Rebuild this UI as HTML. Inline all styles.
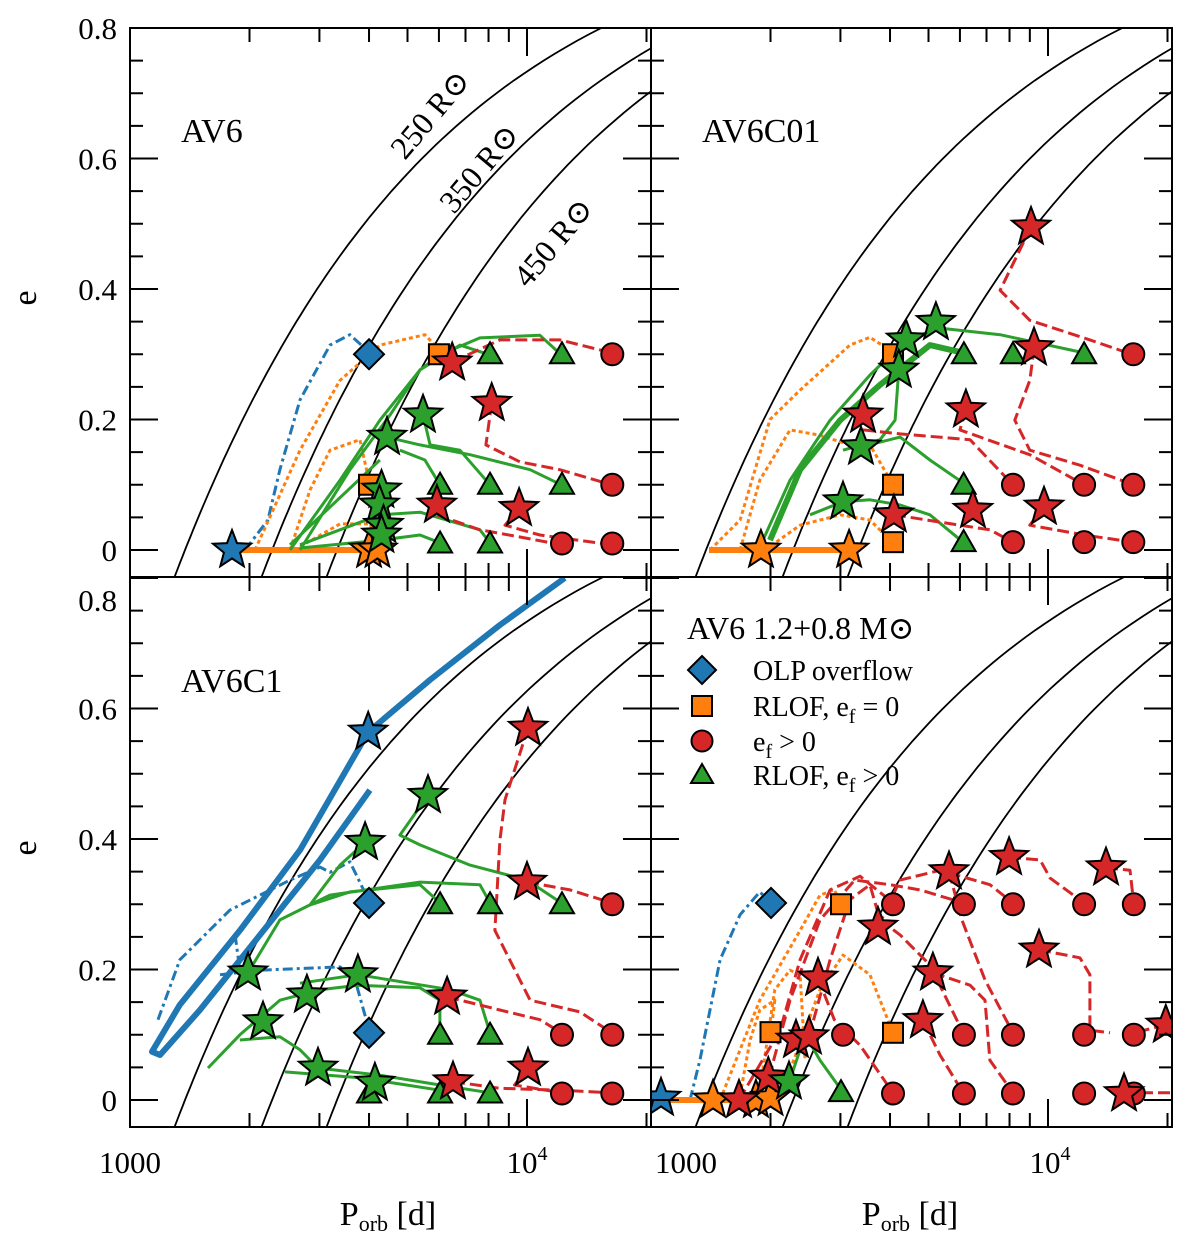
<!DOCTYPE html>
<html><head><meta charset="utf-8"><style>
html,body{margin:0;padding:0;background:#fff;}
svg{display:block;font-family:"Liberation Serif","DejaVu Serif",serif;}
</style></head><body>
<svg id="chart" width="1200" height="1235" viewBox="0 0 1200 1235" xmlns="http://www.w3.org/2000/svg">
<defs>
<clipPath id="c0"><rect x="130" y="28" width="521" height="549"/></clipPath>
<clipPath id="c1"><rect x="651" y="28" width="521" height="549"/></clipPath>
<clipPath id="c2"><rect x="130" y="577" width="521" height="550"/></clipPath>
<clipPath id="c3"><rect x="651" y="577" width="521" height="550"/></clipPath>
</defs>
<g id="layer"></g>
</svg>
<script>
// ---- data ----
const radii = [250, 350, 450];
const P0_250 = 1376;
const yTicks = [0, 0.2, 0.4, 0.6, 0.8];
const yTickLabels = ["0", "0.2", "0.4", "0.6", "0.8"];
const panelNames = ["AV6", "AV6C01", "AV6C1", ""];

// tracks: [color, style, P array, e array]
const tracksAV6 = [
 ["b","dd",[1950,2225,2386,2680,3190,3580,4020],[0,0.046,0.123,0.23,0.314,0.33,0.302]],
 ["o","dot",[2065,2680,3380,4260,5530,6035],[0,0.153,0.26,0.314,0.33,0.306]],
 ["o","dot",[2529,2840,3190,3795,4020],[0,0.092,0.153,0.169,0.1]],
 ["o","dot",[2680,3380,4020,4260],[0.005,0.04,0.04,0.005]],
 ["o","thick",[1807,4200],[0,0]],
 ["g","s",[2529,3380,4260,5375,6035,7610,10780,12200],[0,0.107,0.199,0.276,0.299,0.325,0.329,0.299]],
 ["g","s",[2680,3580,4520,5375,6775,8070],[0,0.123,0.207,0.276,0.314,0.299]],
 ["g","s",[4430,5375,7185,10180,12200],[0.173,0.161,0.146,0.123,0.1]],
 ["g","s",[4785,5530,6035],[0.153,0.138,0.1]],
 ["g","s",[5470,5700,6775,8070],[0.207,0.161,0.153,0.1]],
 ["g","s",[2680,4260,5375,7610,8070],[0.008,0.054,0.058,0.031,0.011]],
 ["g","s",[2680,4260,5375,6035],[0.003,0.015,0.023,0.011]],
 ["g","s",[2529,4260],[0.008,0.138]],
 ["r","d",[6480,8545,12100,16350],[0.288,0.322,0.322,0.302]],
 ["r","d",[8150,7880,9600,12100,16350],[0.225,0.161,0.135,0.123,0.1]],
 ["r","d",[5930,7610,9600,12200],[0.054,0.031,0.02,0.008]],
 ["r","d",[9550,8800,10780,16350],[0.064,0.038,0.023,0.008]]
];
const tracksAV6C01 = [
 ["o","dot",[1408,1677,1994,2375,3170,3560,4070],[0,0.046,0.2,0.245,0.314,0.326,0.303]],
 ["o","dot",[1677,1880,2240,2660,3170,3560,4070],[0,0.107,0.184,0.176,0.161,0.161,0.1]],
 ["o","dot",[1937,2375,2995,3560,4070],[0,0.038,0.054,0.046,0.011]],
 ["o","thick",[1400,3200],[0,0]],
 ["g","s",[1892,2240,2825,3560,4390,5345,7575,12330],[0.008,0.107,0.199,0.268,0.322,0.34,0.33,0.302]],
 ["g","thick",[1994,2375,2995,3775,4210,5040,6140],[0.015,0.123,0.199,0.253,0.276,0.314,0.302]],
 ["g","s",[3380,4240,5040,6110],[0.158,0.173,0.138,0.103]],
 ["g","s",[2515,3045,3560,4240,5040,6110],[0.054,0.074,0.077,0.069,0.054,0.012]],
 ["g","s",[4210,4120,3775,3045],[0.276,0.199,0.169,0.153]],
 ["r","d",[9060,7575,9000,12750,16440],[0.495,0.398,0.352,0.322,0.299]],
 ["r","d",[9230,9000,8250,9000,12030,16440],[0.31,0.26,0.199,0.153,0.13,0.1]],
 ["r","d",[3420,4240,6360,8160],[0.184,0.178,0.169,0.1]],
 ["r","d",[6210,6000,9000,12330],[0.215,0.184,0.146,0.1]],
 ["r","d",[4090,6000,7140,8160],[0.054,0.038,0.031,0.012]],
 ["r","d",[9770,9000,12330,16440],[0.066,0.038,0.023,0.012]]
];
const tracksAV6C1 = [
 ["b","thick",[12450,8545,5700,3980,2680,1892,1336,1136,1190,1500,2125,3010,4020],[0.8,0.728,0.644,0.564,0.383,0.26,0.146,0.074,0.069,0.138,0.253,0.368,0.475]],
 ["b","dd",[1176,1336,1785,2529,3010,3190,3580,4020],[0.123,0.215,0.291,0.337,0.357,0.349,0.365,0.302]],
 ["b","dd",[1685,2125,3380,3690,4020],[0.192,0.199,0.204,0.184,0.103]],
 ["b","dd",[1840,1892,1983],[0.253,0.199,0.195]],
 ["g","s",[1983,2386,2840,3580,5375,6035],[0.195,0.276,0.299,0.319,0.33,0.302]],
 ["g","s",[3910,3380,2840,3190,5375,7610,8070],[0.395,0.36,0.299,0.314,0.334,0.33,0.302]],
 ["g","s",[5630,4785,5375,7185,10000,12200],[0.467,0.406,0.391,0.36,0.337,0.302]],
 ["g","s",[1572,1892,2386,3010,3750,5375,6035,6035],[0.049,0.1,0.153,0.169,0.176,0.172,0.153,0.103]],
 ["g","s",[2680,3750,6400,7610,8070],[0.179,0.192,0.169,0.153,0.103]],
 ["g","s",[1892,2386,2680,2976,4260,6035,8070],[0.092,0.097,0.077,0.049,0.038,0.023,0.011]],
 ["g","s",[2455,3795,6035],[0.043,0.034,0.015]],
 ["r","d",[10060,8800,8545,8300,10180,13590,16350],[0.57,0.46,0.398,0.26,0.153,0.135,0.103]],
 ["r","d",[10000,12830,16350],[0.334,0.322,0.302]],
 ["r","d",[6290,8545,10780,12200],[0.158,0.138,0.123,0.103]],
 ["r","d",[6510,8545,12100,16350],[0.028,0.018,0.015,0.011]],
 ["r","d",[10060,9300,12200],[0.049,0.023,0.011]]
];
const tracksAV6M = [
 ["b","dd",[1254,1328,1493,1677,1880,2005],[0,0.061,0.215,0.284,0.319,0.302]],
 ["o","thick",[1060,2000],[0,0]],
 ["o","dot",[1493,1880,2375,2665,2895,3010],[0,0.153,0.26,0.314,0.322,0.302]],
 ["o","dot",[1677,1777,1880,2050,2005],[0.008,0.092,0.138,0.153,0.104]],
 ["o","dot",[1880,2050,2240,2375,2445],[0.015,0.169,0.199,0.192,0.061]],
 ["o","dot",[2240,2665,3045,3560,4070],[0.046,0.169,0.222,0.192,0.103]],
 ["r","d",[1666,2115,2375,2825,3360,4070],[0,0.107,0.215,0.322,0.343,0.302]],
 ["r","d",[1983,2240,2665,3260,4000,4760,6110],[0.035,0.153,0.276,0.337,0.33,0.322,0.302]],
 ["r","d",[2500,2825,3170,3560,3775,4240,5040,6110],[0.097,0.215,0.307,0.33,0.276,0.253,0.207,0.103]],
 ["r","d",[2635,2895,3360,4070],[0.187,0.123,0.084,0.011]],
 ["r","d",[3730,4240,5345,7140,8160],[0.265,0.337,0.352,0.33,0.302]],
 ["r","d",[4840,5345,6110],[0.122,0.069,0.011]],
 ["r","d",[5130,6360,6940,7140,8160],[0.195,0.176,0.153,0.061,0.011]],
 ["r","d",[5630,6070,6940,8160],[0.35,0.276,0.184,0.103]],
 ["r","d",[7980,9550,10120,12330],[0.372,0.368,0.34,0.302]],
 ["r","d",[9490,12030,12750,12750,14330],[0.23,0.218,0.192,0.107,0.103]],
 ["r","d",[14000,16090,16440,17500],[0.356,0.352,0.302,0.3]],
 ["r","d",[15540,20500],[0.011,0.011]],
 ["r","d",[19800,16440],[0.115,0.103]],
 ["g","s",[2230,2375,2490,2665,3045],[0.028,0.077,0.092,0.061,0.012]]
];

// markers: [shape, color, P, e]
const markersAV6 = [
 ["tri","g",8070,0.3],["tri","g",12250,0.3],["tri","g",6040,0.1],["tri","g",8070,0.1],["tri","g",12250,0.1],
 ["tri","g",6040,0.01],["tri","g",8070,0.01],
 ["circ","r",16400,0.3],["circ","r",16400,0.1],["circ","r",12250,0.01],["circ","r",16400,0.01],
 ["sq","o",6000,0.3],["sq","o",4000,0.1],
 ["dia","b",4000,0.3],
 ["star","b",1807,0],["star","o",4000,0],["star","o",4200,0],
 ["star","g",5470,0.207],["star","g",4440,0.173],["star","g",4300,0.092],["star","g",4250,0.069],["star","g",4350,0.038],["star","g",4300,0.023],
 ["star","r",6480,0.287],["star","r",8150,0.225],["star","r",5930,0.069],["star","r",9550,0.064]
];
const markersAV6C01 = [
 ["tri","g",6140,0.3],["tri","g",8160,0.3],["tri","g",12330,0.3],["tri","g",6130,0.1],["tri","g",6130,0.012],
 ["circ","r",16400,0.3],["circ","r",8160,0.1],["circ","r",12330,0.1],["circ","r",16400,0.1],
 ["circ","r",8160,0.012],["circ","r",12330,0.012],["circ","r",16400,0.012],
 ["sq","o",4070,0.3],["sq","o",4070,0.1],["sq","o",4070,0.012],
 ["star","o",1892,0],["star","o",3155,0],
 ["star","g",5220,0.349],["star","g",4390,0.322],["star","g",4210,0.276],["star","g",3380,0.158],["star","g",3045,0.074],
 ["star","r",9060,0.495],["star","r",9220,0.31],["star","r",6210,0.215],["star","r",3420,0.207],["star","r",4090,0.054],["star","r",6470,0.061],["star","r",9770,0.066]
];
const markersAV6C1 = [
 ["tri","g",6040,0.3],["tri","g",8070,0.3],["tri","g",12250,0.3],["tri","g",6040,0.1],["tri","g",8070,0.1],
 ["tri","g",4000,0.01],["tri","g",6040,0.01],["tri","g",8070,0.01],
 ["circ","r",16400,0.3],["circ","r",12250,0.1],["circ","r",16400,0.1],["circ","r",12250,0.01],["circ","r",16400,0.01],
 ["dia","b",4000,0.302],["dia","b",4000,0.103],
 ["star","b",3980,0.564],
 ["star","g",5630,0.467],["star","g",3910,0.395],["star","g",1983,0.195],["star","g",2790,0.161],["star","g",3750,0.192],["star","g",2163,0.12],["star","g",2976,0.049],["star","g",4140,0.026],
 ["star","r",10060,0.57],["star","r",10000,0.334],["star","r",6290,0.158],["star","r",6510,0.028],["star","r",10060,0.049]
];
const markersAV6M = [
 ["tri","g",3010,0.012],
 ["circ","r",4070,0.3],["circ","r",6140,0.3],["circ","r",8160,0.3],["circ","r",12330,0.3],["circ","r",16450,0.3],
 ["circ","r",3046,0.1],["circ","r",6140,0.1],["circ","r",8160,0.1],["circ","r",12330,0.1],["circ","r",16450,0.1],
 ["circ","r",4070,0.01],["circ","r",6140,0.01],["circ","r",8160,0.01],["circ","r",12330,0.01],["circ","r",16450,0.01],
 ["sq","o",3010,0.3],["sq","o",2000,0.104],["sq","o",4070,0.103],
 ["dia","b",2006,0.302],
 ["star","b",1060,0.003],
 ["star","o",1433,0],["star","o",1838,0],["star","o",2000,0.003],
 ["star","r",1666,0],["star","r",1975,0.035],["star","r",2318,0.092],["star","r",2500,0.097],["star","r",2635,0.187],["star","r",3730,0.265],
 ["star","r",4840,0.122],["star","r",5130,0.195],["star","r",5630,0.35],["star","r",7980,0.372],["star","r",9490,0.23],["star","r",14000,0.356],
 ["star","r",19800,0.115],["star","r",15540,0.01],
 ["star","g",2226,0.028]
];

// ---- rendering ----
const COL = {b:"#1f77b4", o:"#ff7f0e", g:"#2ca02c", r:"#d62728"};
const NS = "http://www.w3.org/2000/svg";
const layer = document.getElementById("layer");
const DEC = 397, EPX = 652.5;
const panels = [
 {x0:130, top:28, bot:577, e0:550, tracks:tracksAV6, markers:markersAV6, clip:"c0"},
 {x0:651, top:28, bot:577, e0:550, tracks:tracksAV6C01, markers:markersAV6C01, clip:"c1"},
 {x0:130, top:577, bot:1127, e0:1100, tracks:tracksAV6C1, markers:markersAV6C1, clip:"c2"},
 {x0:651, top:577, bot:1127, e0:1100, tracks:tracksAV6M, markers:markersAV6M, clip:"c3"}
];
function mk(tag, attrs, parent){ const el=document.createElementNS(NS,tag); for(const k in attrs) el.setAttribute(k,attrs[k]); (parent||layer).appendChild(el); return el; }
function xs(p,P){ return p.x0 + DEC*Math.log10(P/1000); }
function ys(p,e){ return p.e0 - EPX*e; }

panels.forEach((p,pi)=>{
  const g = mk("g",{"clip-path":"url(#"+p.clip+")"});
  
  
  // constant-periastron curves
  radii.forEach(R=>{
    const P0 = P0_250*Math.pow(R/250,1.5);
    let d="";
    for(let i=0;i<=90;i++){ const e=-0.05+i*0.01; const P=P0*Math.pow(1-e,-1.5); d+=(i?"L":"M")+xs(p,P).toFixed(1)+" "+ys(p,e).toFixed(1); }
    const c = mk("path",{d:d,fill:"none",stroke:"#000","stroke-width":1.8},g);
    
    
  });
  // tracks
  p.tracks.forEach(t=>{
    const [c,st,Ps,Es]=t;
    let d=""; Ps.forEach((P,i)=>{ d+=(i?"L":"M")+xs(p,P).toFixed(1)+" "+ys(p,Es[i]).toFixed(1); });
    const a={d:d,fill:"none",stroke:COL[c],"stroke-width":3,"stroke-linejoin":"round","stroke-linecap":"butt"};
    if(st==="d") a["stroke-dasharray"]="12 5";
    if(st==="dot") a["stroke-dasharray"]="4 3";
    if(st==="dd") a["stroke-dasharray"]="10 4 3 4";
    if(st==="thick") a["stroke-width"]=6;
    const el = mk("path",a,g);
    
    
  });
  // markers
  p.markers.forEach(m=>{
    const [sh,c,P,e]=m; const x=xs(p,P), y=ys(p,e);
    let el;
    const base={fill:COL[c],stroke:"#000","stroke-width":2};
    if(sh==="circ"){ el=mk("circle",Object.assign({cx:x,cy:y,r:11},base),g); }
    else if(sh==="sq"){ el=mk("rect",Object.assign({x:x-10,y:y-10,width:20,height:20},base),g); }
    else if(sh==="tri"){ el=mk("polygon",Object.assign({points:`${x},${y-12} ${x+12},${y+9} ${x-12},${y+9}`},base),g); }
    else if(sh==="dia"){ el=mk("polygon",Object.assign({points:`${x},${y-15} ${x+15},${y} ${x},${y+15} ${x-15},${y}`},base),g); }
    else { let pts=""; for(let k=0;k<10;k++){ const r=k%2?8.5:20; const a=-Math.PI/2+k*Math.PI/5; pts+=(x+r*Math.cos(a)).toFixed(1)+","+(y+r*Math.sin(a)).toFixed(1)+" "; } el=mk("polygon",Object.assign({points:pts},base),g); }
    
    
  });
  // frame
  const fr = mk("rect",{x:p.x0,y:p.top,width:521,height:p.bot-p.top,fill:"none",stroke:"#000","stroke-width":2});
  
  
  // y ticks
  for(let i=0;i<=16;i++){
    const e=i*0.05; const y=ys(p,e); if(y<p.top-1||y>p.bot) continue;
    const len = (i%4===0)?28:13;
    mk("line",{x1:p.x0,y1:y,x2:p.x0+len,y2:y,stroke:"#000","stroke-width":2});
    mk("line",{x1:p.x0+521,y1:y,x2:p.x0+521-len,y2:y,stroke:"#000","stroke-width":2});
  }
  // x ticks
  const xt=[1000,2000,3000,4000,5000,6000,7000,8000,9000,10000,20000];
  xt.forEach(P=>{
    const x=xs(p,P); if(x<p.x0-1||x>p.x0+522) return;
    const len=(P===1000||P===10000)?28:14;
    mk("line",{x1:x,y1:p.bot,x2:x,y2:p.bot-len,stroke:"#000","stroke-width":2});
    mk("line",{x1:x,y1:p.top,x2:x,y2:p.top+len,stroke:"#000","stroke-width":2});
  });
  // panel label
  if(panelNames[pi]){
    const t=mk("text",{x:p.x0+51,y:pi<2?142:692,"font-size":34});
    t.textContent=panelNames[pi];
    
    
  }
});
// y tick labels (left panels)
[[550,28],[1100,578]].forEach(([e0,top],k)=>{
  yTicks.forEach((v,i)=>{
    let y=e0-EPX*v; if(k===1&&i===4) y=600;
    const t=mk("text",{x:117,y:y+11,"font-size":31,"text-anchor":"end"});
    t.textContent=yTickLabels[i];
    
    
  });
});
// x tick labels
[[130,"1000"],[527,"10"],[686,"1000"],[1050,"10"]].forEach(([x,s])=>{
  const t=mk("text",{x:x,y:1173,"font-size":31,"text-anchor":"middle"});
  t.textContent=s;
  if(s==="10"){ const ts=document.createElementNS(NS,"tspan"); ts.setAttribute("font-size","20"); ts.setAttribute("dy","-13"); ts.textContent="4"; t.appendChild(ts); }
  
  
});
// axis titles
[298,848].forEach(y=>{
  const t=mk("text",{x:36,y:y,"font-size":34,"text-anchor":"middle",transform:`rotate(-90 36 ${y})`});
  t.textContent="e";
  
  
});
[388,910].forEach(x=>{
  const t=mk("text",{x:x,y:1225,"font-size":34,"text-anchor":"middle"});
  t.innerHTML='P<tspan font-size="22" dy="6">orb</tspan><tspan dy="-6"> [d]</tspan>';
  
  
});
// curve labels
[["250 R",430,114],["350 R",479,168],["450 R",553,242]].forEach(([s,x,y])=>{
  const t=mk("text",{x:x,y:y+11,"font-size":32,"text-anchor":"middle",transform:`rotate(-50 ${x} ${y})`});
  t.textContent=s+"\u2299";
  
  
});
// legend
const lg = mk("g",{});


const lt = mk("text",{x:687,y:639,"font-size":32},lg);
lt.textContent="AV6 1.2+0.8 M\u2299";


const legShapes=["dia","sq","circ","tri"];
const legCols=["b","o","r","g"];
const legTexts=['OLP overflow','RLOF, e<tspan font-size="20" dy="7">f</tspan><tspan dy="-7"> = 0</tspan>','e<tspan font-size="20" dy="7">f</tspan><tspan dy="-7"> &gt; 0</tspan>','RLOF, e<tspan font-size="20" dy="7">f</tspan><tspan dy="-7"> &gt; 0</tspan>'];
const legY=[670,706,741,775];
legShapes.forEach((sh,i)=>{
  const x=702,y=legY[i]; const base={fill:COL[legCols[i]],stroke:"#000","stroke-width":2};
  let el;
  if(sh==="dia") el=mk("polygon",Object.assign({points:`${x},${y-14} ${x+14},${y} ${x},${y+14} ${x-14},${y}`},base),lg);
  else if(sh==="sq") el=mk("rect",Object.assign({x:x-10,y:y-10,width:20,height:20},base),lg);
  else if(sh==="circ") el=mk("circle",Object.assign({cx:x,cy:y,r:10.5},base),lg);
  else el=mk("polygon",Object.assign({points:`${x},${y-11} ${x+11},${y+8} ${x-11},${y+8}`},base),lg);
  
  
  const t=mk("text",{x:753,y:y+10,"font-size":28},lg);
  t.innerHTML=legTexts[i];
  
  
});
</script>
</body></html>
